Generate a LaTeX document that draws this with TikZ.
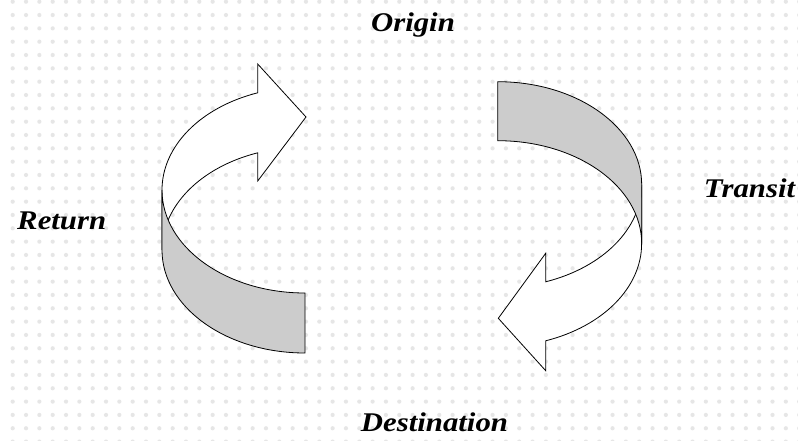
\documentclass[tikz,border=0pt]{standalone}
\usepackage{fontspec}
\usepackage{graphicx}
\setmainfont{Liberation Serif}
\definecolor{bandgray}{HTML}{CCCCCC}
\definecolor{dotgray}{HTML}{E6E6E6}
\newcommand\lblfont{\fontsize{27}{32}\selectfont\bfseries\itshape}
\newcommand\lbltext[1]{\scalebox{1.14}[1]{#1}}
\tikzset{
  lbl/.style={font=\lblfont, inner sep=0pt, anchor=base},
  front/.style={draw=black, line width=0.8pt, fill=white, line join=miter},
  back/.style={draw=black, line width=0.8pt, fill=bandgray, line join=miter},
  bgdot/.style={fill=dotgray}
}
\begin{document}
\begin{tikzpicture}[x=1pt,y=-1pt]
\useasboundingbox (0,0) rectangle (798,441);
\fill[white] (0,0) rectangle (798,441);
% background dot grid
\foreach \i in {0,...,59}{
  \foreach \j in {0,...,33}{
    \fill[bgdot] ({12.7+13.33*\i},{1.7+13.33*\j}) circle[radius=2.1];
  }
}
% ---- left curved arrow (Return -> Origin) ----
\coordinate (L1) at (162,190);
\draw[front] (L1) arc[start angle=180, end angle=250.7, x radius=143, y radius=103]
  -- (257.7,64) -- (306,117) -- (257.7,181) -- (257.7,152.8)
  arc[start angle=250.7, end angle=180, x radius=143, y radius=103] -- cycle;
\draw[back] (L1) arc[start angle=180, end angle=90, x radius=143, y radius=103]
  -- (305,353)
  arc[start angle=90, end angle=180, x radius=143, y radius=103] -- cycle;
% ---- right curved arrow (Transit -> Destination) ----
\coordinate (R1) at (641.7,184.7);
\coordinate (R2) at (497.7,81.7);
\draw[front] (R1) arc[start angle=0, end angle=70.5, x radius=144, y radius=103]
  -- (545.7,253.3) -- (498.3,318.3) -- (545.7,370.7) -- (545.7,340.8)
  arc[start angle=70.5, end angle=0, x radius=144, y radius=103] -- cycle;
\draw[back] (R2) arc[start angle=270, end angle=360, x radius=144, y radius=103]
  -- (641.7,243.7)
  arc[start angle=360, end angle=270, x radius=144, y radius=103] -- cycle;
% ---- labels ----
\node[lbl] (origin) at (413,31.5) {\lbltext{Origin}};
\node[lbl] (return) at (61.7,229.3) {\lbltext{Return}};
\node[lbl] (transit) at (749.5,197.3) {\lbltext{Transit}};
\node[lbl] (dest) at (434.5,431.7) {\lbltext{Destination}};
\end{tikzpicture}
\end{document}
